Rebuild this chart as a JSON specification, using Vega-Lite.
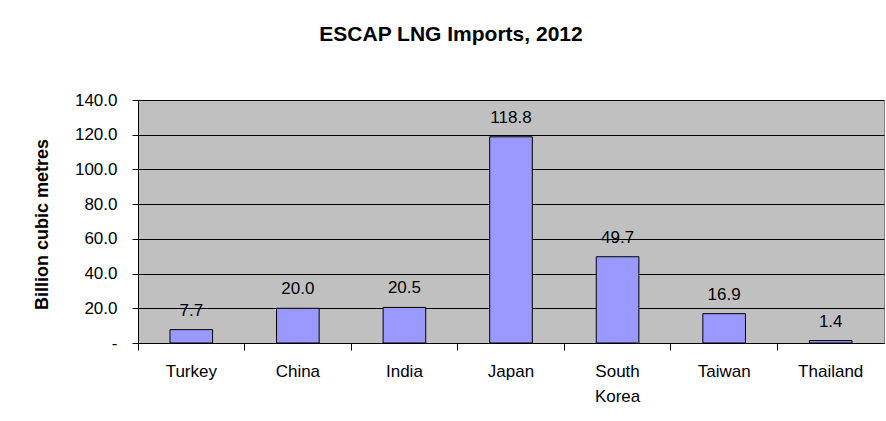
{
  "$schema": "https://vega.github.io/schema/vega-lite/v6.json",
  "width": 746,
  "height": 243,
  "autosize": {"type": "none"},
  "padding": {"left": 138, "top": 100, "right": 2, "bottom": 78},
  "background": "white",
  "title": {
    "text": "ESCAP LNG Imports, 2012",
    "font": "Liberation Sans",
    "fontSize": 21,
    "fontWeight": "bold",
    "color": "black",
    "anchor": "middle",
    "baseline": "alphabetic",
    "offset": 29,
    "dx": -60
  },
  "data": {
    "values": [
      {"country": "Turkey", "bcm": 7.7},
      {"country": "China", "bcm": 20.0},
      {"country": "India", "bcm": 20.5},
      {"country": "Japan", "bcm": 118.8},
      {"country": "South Korea", "bcm": 49.7},
      {"country": "Taiwan", "bcm": 16.9},
      {"country": "Thailand", "bcm": 1.4}
    ]
  },
  "encoding": {
    "x": {
      "field": "country",
      "type": "nominal",
      "sort": null,
      "scale": {"paddingInner": 0, "paddingOuter": 0},
      "axis": {
        "title": null,
        "labelAngle": 0,
        "labelFont": "Liberation Sans",
        "labelFontSize": 17,
        "labelColor": "black",
        "labelExpr": "split(datum.label, ' ')",
        "labelLineHeight": 25,
        "labelPadding": 13,
        "bandPosition": 0,
        "tickSize": 7,
        "tickColor": "black",
        "domainColor": "black",
        "grid": false
      }
    },
    "y": {
      "field": "bcm",
      "type": "quantitative",
      "scale": {"domain": [0, 140], "nice": false},
      "axis": {
        "values": [0, 20, 40, 60, 80, 100, 120, 140],
        "labelExpr": "datum.value == 0 ? '-\u00a0\u00a0\u00a0\u00a0\u00a0' : format(datum.value, '.1f')",
        "labelFont": "Liberation Sans",
        "labelFontSize": 17,
        "labelColor": "black",
        "labelPadding": 15,
        "tickSize": 6,
        "tickColor": "black",
        "domainColor": "black",
        "gridColor": "black",
        "gridOpacity": 1,
        "title": "Billion cubic metres",
        "titleFont": "Liberation Sans",
        "titleFontSize": 18,
        "titleFontWeight": "bold",
        "titleColor": "black",
        "titleAngle": -90,
        "titleX": -96,
        "titleY": 124,
        "titleAlign": "center",
        "titleBaseline": "middle"
      }
    }
  },
  "layer": [
    {
      "mark": {
        "type": "bar",
        "width": {"band": 0.4},
        "fill": "#9999FF",
        "stroke": "black",
        "strokeWidth": 1
      }
    },
    {
      "mark": {
        "type": "text",
        "font": "Liberation Sans",
        "fontSize": 17,
        "color": "black",
        "baseline": "alphabetic",
        "dy": -14
      },
      "encoding": {
        "text": {"field": "bcm", "type": "quantitative", "format": ".1f"}
      }
    }
  ],
  "config": {
    "view": {"fill": "#C0C0C0", "stroke": "#808080", "strokeWidth": 1}
  }
}
